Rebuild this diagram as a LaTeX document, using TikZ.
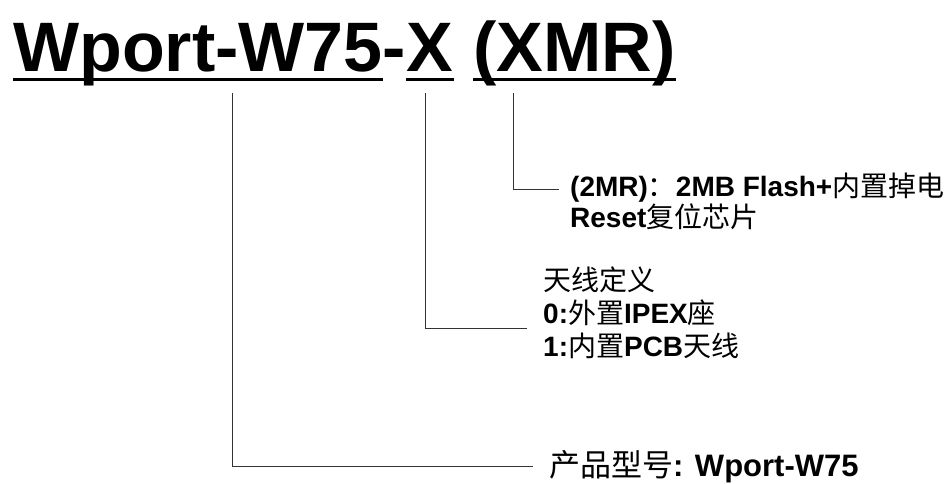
\documentclass[tikz,border=0pt]{standalone}
\usepackage{fontspec}
\setmainfont{Liberation Sans}
\newfontfamily\cjkfont{Noto Sans CJK SC}
\newcommand{\zh}[1]{{\cjkfont\mdseries #1}}
\usetikzlibrary{positioning}
\begin{document}
\begin{tikzpicture}[x=1pt,y=-1pt,
  titletext/.style={inner sep=0pt, font=\fontsize{70}{72}\selectfont\bfseries},
  labeltext/.style={inner sep=0pt, anchor=base west, align=left,
    font=\fontsize{28}{31}\selectfont\bfseries},
  uline/.style={line width=3pt},
  lead/.style={line width=1pt, draw=black!80}]
\useasboundingbox (0,0) rectangle (948,483);
\node[titletext, anchor=base west] (tname) at (13,71) {Wport-W75};
\node[titletext, anchor=base west] (tdash) at (tname.base east) {-};
\node[titletext, anchor=base west] (tsel) at (tdash.base east) {X};
\node[titletext, right=19.5pt of tsel.base east, anchor=base west] (tcode) {(XMR)};
\draw[uline] ([yshift=-8pt]tname.base west) -- ([yshift=-8pt]tname.base east);
\draw[uline] ([yshift=-8pt]tsel.base west) -- ([yshift=-8pt]tsel.base east);
\draw[uline] ([yshift=-8pt]tcode.base west) -- ([yshift=-8pt]tcode.base east);
\node[labeltext] (chip) at (570,227)
{(2MR)\zh{：}2MB Flash+\zh{内置掉电}\\Reset\zh{复位芯片}};
\node[labeltext, font=\fontsize{28}{33}\selectfont\bfseries] (ant) at (543,356)
{\zh{天线定义}\\0:\zh{外置}IPEX\zh{座}\\1:\zh{内置}PCB\zh{天线}};
\node[labeltext, font=\fontsize{31}{33}\selectfont\bfseries] (model) at (549,476)
{\zh{产品型号}: Wport-W75};
\coordinate (pmodel) at (232,93);
\coordinate (pant) at (425,93);
\coordinate (pchip) at (513,93);
\coordinate (emodel) at (533,466);
\coordinate (eant) at (527,328);
\coordinate (echip) at (559,189);
\draw[lead] (pmodel) |- (emodel);
\draw[lead] (pant) |- (eant);
\draw[lead] (pchip) |- (echip);
\end{tikzpicture}
\end{document}
